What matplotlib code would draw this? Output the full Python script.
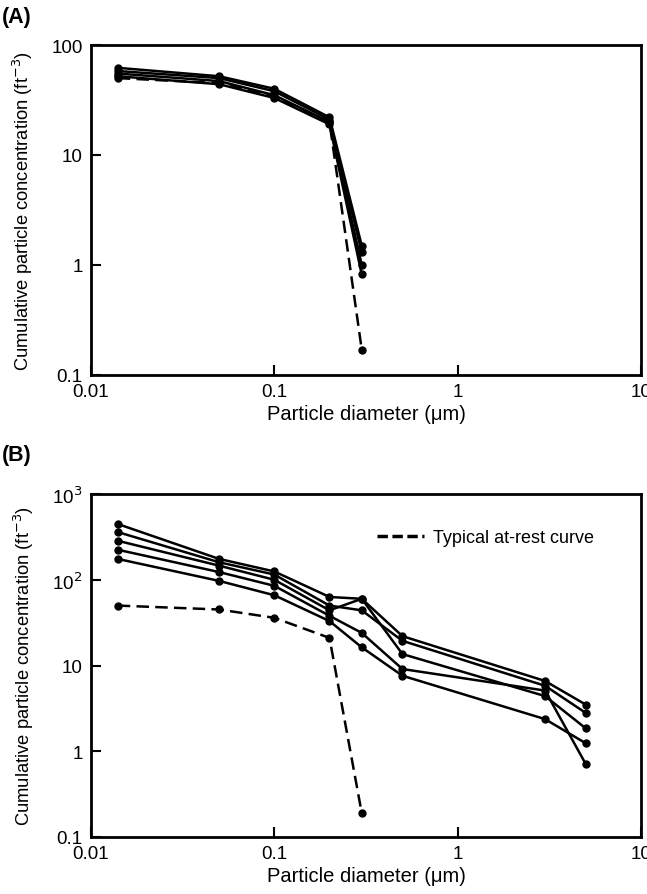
import matplotlib
matplotlib.use("Agg")
import matplotlib.pyplot as plt
import numpy as np

plt.rcParams['font.family'] = ['Liberation Sans', 'DejaVu Sans']

# (A) at-rest measurements
x_a = [0.014, 0.05, 0.1, 0.2, 0.3]
a_runs = [
    [62, 52, 40, 22, 1.5],
    [58, 50, 38, 21, 1.3],
    [55, 47, 35, 20, 1.0],
    [52, 44, 33, 19, 0.82],
]
a_rest = [50, 45, 34, 20, 0.17]

# (B) in-operation measurements
x_b = [0.014, 0.05, 0.1, 0.2, 0.3, 0.5, 3.0, 5.0]
b_runs = [
    [447, 175, 125, 63, 60, 22, 6.6, 3.5],
    [360, 160, 115, 50, 44, 19.4, 5.8, 2.8],
    [285, 146, 100, 44, 60, 13.6, 4.4, 1.85],
    [224, 123, 85, 38, 24, 9.1, 5.1, 0.71],
    [175, 97, 66, 33, 16.3, 7.6, 2.37, 1.24],
]
x_rest = [0.014, 0.05, 0.1, 0.2, 0.3]
b_rest = [50, 45, 36, 21, 0.19]

xticks = [0.01, 0.1, 1, 10]
xticklabels = ['0.01', '0.1', '1', '10']
yticks_a = [0.1, 1, 10, 100]
yticklabels_a = ['0.1', '1', '10', '100']
yticks_b = [0.1, 1, 10, 100, 1000]
yticklabels_b = ['0.1', '1', '10', '10$^2$', '10$^3$']

fig = plt.figure(figsize=(6.47, 8.95), dpi=100)
ax1 = fig.add_axes([0.1406, 0.5799, 0.850, 0.3687])
ax2 = fig.add_axes([0.1406, 0.0637, 0.850, 0.3832])

ylabel = 'Cumulative particle concentration (ft$^{-3}$)'
dash = (5, 2.5)

def style(ax, yticks, ylabels, ylim):
    ax.set_xscale('log')
    ax.set_yscale('log')
    ax.set_xlim(0.01, 10)
    ax.set_ylim(*ylim)
    ax.set_xticks(xticks)
    ax.set_xticklabels(xticklabels)
    ax.set_yticks(yticks)
    ax.set_yticklabels(ylabels)
    ax.minorticks_off()
    ax.tick_params(direction='in', length=7, width=1.5, labelsize=13.5, pad=6)
    for s in ax.spines.values():
        s.set_linewidth(2)
    ax.set_xlabel('Particle diameter (μm)', fontsize=14.5, labelpad=3)
    ax.set_ylabel(ylabel, fontsize=13.2, labelpad=12)

for run in a_runs:
    ax1.plot(x_a, run, color='k', lw=1.8, marker='o', ms=5)
ax1.plot(x_a, a_rest, color='k', lw=1.8, ls=(0, dash), marker='o', ms=5)
style(ax1, yticks_a, yticklabels_a, (0.1, 100))

for run in b_runs:
    ax2.plot(x_b, run, color='k', lw=1.8, marker='o', ms=5)
ax2.plot(x_rest, b_rest, color='k', lw=1.8, ls=(0, dash), marker='o', ms=5,
         label='Typical at-rest curve')
style(ax2, yticks_b, yticklabels_b, (0.1, 1000))

leg = ax2.legend(loc='upper left', bbox_to_anchor=(0.49, 0.945), frameon=False,
                 fontsize=13, handlelength=2.6, handletextpad=0.5)
leg.get_lines()[0].set_marker('')
leg.get_lines()[0].set_linewidth(2.5)
leg.get_lines()[0].set_linestyle((0, (3, 1.3)))

fig.text(0.003, 0.981, '(A)', fontsize=15.5, fontweight='bold', va='center')
fig.text(0.003, 0.491, '(B)', fontsize=15.5, fontweight='bold', va='center')

fig.savefig('out.png', dpi=100)
